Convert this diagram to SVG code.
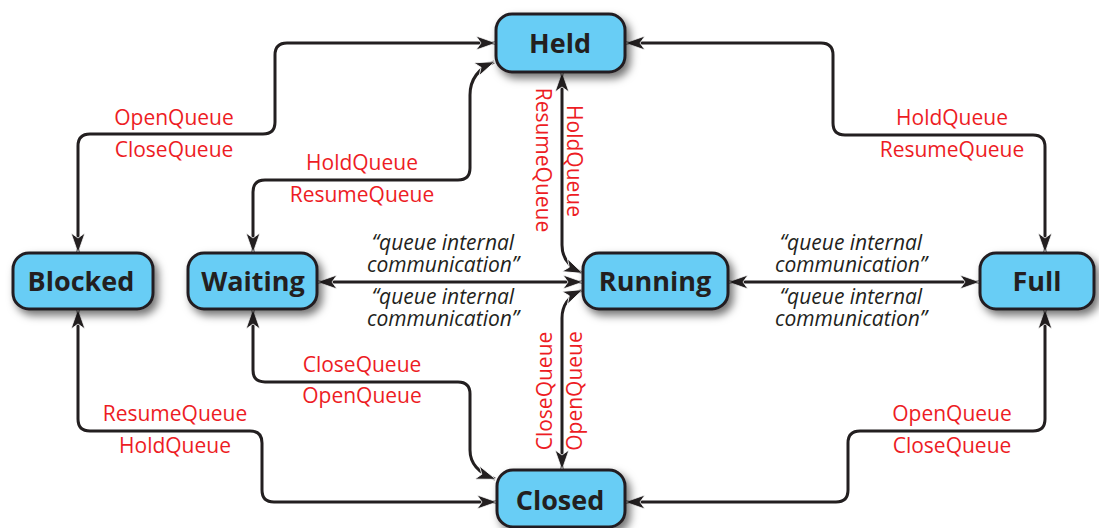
<svg xmlns="http://www.w3.org/2000/svg" width="1099" height="528" viewBox="0 0 1099 528">
<style>
.node rect{fill:#67cdf5;stroke:#231f20;stroke-width:3;filter:url(#sh)}
.node text{font-family:"Open Sans","Liberation Sans",sans-serif;font-weight:bold;font-size:27px;fill:#231f20;text-anchor:middle}
.conn path{fill:none;stroke:#231f20;stroke-width:3;marker-start:url(#ah);marker-end:url(#ah)}
.lbl{font-family:"Open Sans","Liberation Sans",sans-serif;font-size:21px;fill:#ed1c24;text-anchor:middle}
.msg{font-family:"Open Sans","Liberation Sans",sans-serif;font-style:italic;font-size:21px;fill:#231f20;text-anchor:middle}
</style>
<defs>
<filter id="sh" x="-20%" y="-30%" width="150%" height="180%">
<feDropShadow dx="4" dy="5" stdDeviation="4" flood-color="#000" flood-opacity="0.55"/>
</filter>
<marker id="ah" viewBox="0 0 20 14" refX="19" refY="7" markerWidth="20" markerHeight="14" markerUnits="userSpaceOnUse" orient="auto-start-reverse">
<path d="M0,0 L20,7 L0,14 L5,7 z" fill="#231f20" stroke="#fff" stroke-width="0.8"/>
</marker>
</defs>
<rect width="1099" height="528" fill="#fff"/>
<g id="connectors" class="conn">
<path d="M495,43 H287 Q275,43 275,55 V122 Q275,134 263,134 H90 Q78,134 78,146 V252"/>
<path d="M253,252 V192 Q253,180 265,180 H458 Q470,180 470,168 V95 Q470,72 494,62"/>
<path d="M626,43 H821 Q833,43 833,55 V123 Q833,135 845,135 H1033 Q1045,135 1045,147 V252"/>
<path d="M562,73 V245 Q562,264 582,273"/>
<path d="M562,469 V318 Q562,299 582,290"/>
<path d="M318,282 H582"/>
<path d="M729,282 H979"/>
<path d="M253,310 V370 Q253,382 265,382 H458 Q470,382 470,394 V450 Q470,470 495,479"/>
<path d="M78,310 V419 Q78,431 90,431 H250 Q262,431 262,443 V490 Q262,502 274,502 H496"/>
<path d="M1045,310 V419 Q1045,431 1033,431 H860 Q848,431 848,443 V490 Q848,502 836,502 H626"/>
</g>
<g id="labels">
<text class="lbl" x="174" y="125">OpenQueue</text>
<text class="lbl" x="174" y="157">CloseQueue</text>
<text class="lbl" x="362" y="170">HoldQueue</text>
<text class="lbl" x="362" y="202">ResumeQueue</text>
<text class="lbl" x="952" y="125">HoldQueue</text>
<text class="lbl" x="952" y="157">ResumeQueue</text>
<text class="lbl" x="362" y="372">CloseQueue</text>
<text class="lbl" x="362" y="403">OpenQueue</text>
<text class="lbl" x="175" y="421">ResumeQueue</text>
<text class="lbl" x="175" y="453">HoldQueue</text>
<text class="lbl" x="952" y="421">OpenQueue</text>
<text class="lbl" x="952" y="453">CloseQueue</text>
<text class="lbl" transform="translate(536,160) rotate(90)">ResumeQueue</text>
<text class="lbl" transform="translate(567,161) rotate(90)">HoldQueue</text>
<text class="lbl" transform="translate(552,391) rotate(-90)">CloseQueue</text>
<text class="lbl" transform="translate(582,391) rotate(-90)">OpenQueue</text>
<text class="msg" x="443" y="250">“queue internal</text>
<text class="msg" x="443" y="272">communication”</text>
<text class="msg" x="443" y="304">“queue internal</text>
<text class="msg" x="443" y="326">communication”</text>
<text class="msg" x="851" y="250">“queue internal</text>
<text class="msg" x="851" y="272">communication”</text>
<text class="msg" x="851" y="304">“queue internal</text>
<text class="msg" x="851" y="326">communication”</text>
</g>
<g id="node-held" class="node"><rect x="496" y="14" width="129" height="58" rx="16"/><text x="560" y="53">Held</text></g>
<g id="node-blocked" class="node"><rect x="13" y="253" width="140" height="56" rx="16"/><text x="81" y="291">Blocked</text></g>
<g id="node-waiting" class="node"><rect x="188" y="253" width="129" height="56" rx="16"/><text x="253" y="291">Waiting</text></g>
<g id="node-running" class="node"><rect x="583" y="253" width="145" height="56" rx="16"/><text x="655" y="291">Running</text></g>
<g id="node-full" class="node"><rect x="980" y="253" width="114" height="56" rx="16"/><text x="1037" y="291">Full</text></g>
<g id="node-closed" class="node"><rect x="497" y="470" width="128" height="57" rx="16"/><text x="560" y="510">Closed</text></g>
</svg>
